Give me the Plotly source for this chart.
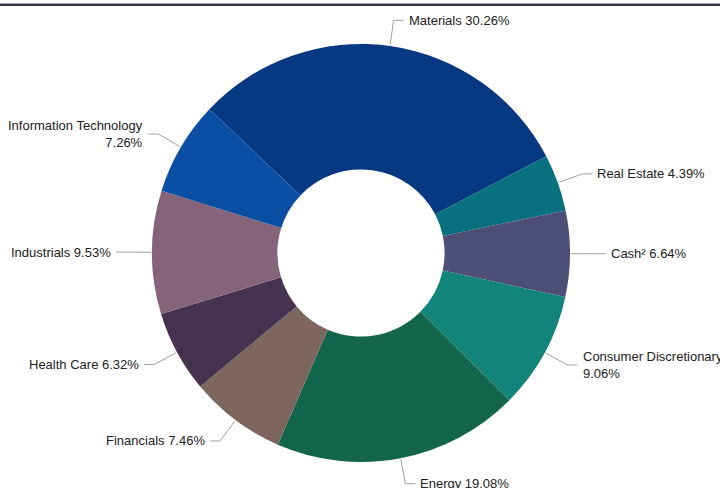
import math
import plotly.graph_objects as go

labels = ["Materials", "Real Estate", "Cash²", "Consumer Discretionary", "Energy",
          "Financials", "Health Care", "Industrials", "Information Technology"]
values = [30.26, 4.39, 6.64, 9.06, 19.08, 7.46, 6.32, 9.53, 7.26]
colors = ["#073882", "#08707e", "#4e4f76", "#13847a", "#13654c",
          "#7c665e", "#46334f", "#856479", "#0b4fa5"]

W, H = 720, 488
CX, CY, R = 361, 253, 209
START = -46.5  # degrees clockwise from 12 o'clock

fig = go.Figure(go.Pie(
    labels=labels, values=values, sort=False, direction="clockwise",
    rotation=START, hole=0.4, textinfo="none", hoverinfo="label+percent",
    marker=dict(colors=colors, line=dict(width=0)),
    domain=dict(x=[(CX - R) / W, (CX + R) / W],
                y=[(H - CY - R) / H, (H - CY + R) / H]),
    showlegend=False,
))

def px(x, y):
    return x / W, 1 - y / H

shapes = [dict(type="line", xref="paper", yref="paper", x0=0, x1=1,
               y0=1 - 4.8 / H, y1=1 - 4.8 / H, line=dict(color="#3f3350", width=2.5))]
annotations = []
total = sum(values)
cum = 0
for name, v in zip(labels, values):
    mid = math.radians(START + 360 * (cum + v / 2) / total)
    cum += v
    s, c = math.sin(mid), -math.cos(mid)
    x0, y0 = CX + (R + 1) * s, CY + (R + 1) * c
    x1, y1 = CX + (R + 26) * s, CY + (R + 26) * c
    right = s >= 0
    x2 = x1 + (10 if right else -10)
    xt = x2 + (3 if right else -3)
    pts = [px(x0, y0), px(x1, y1), px(x2, y1)]
    path = "M {} {} L {} {} L {} {}".format(*[f"{a:.5f}" for p in pts for a in p])
    shapes.append(dict(type="path", xref="paper", yref="paper", path=path,
                       line=dict(color="#a0a0a0", width=1)))
    pct = f"{v:.2f}%"
    text = f"{name}<br>{pct}" if len(name) > 18 else f"{name} {pct}"
    tx, ty = px(xt, y1)
    annotations.append(dict(
        x=tx, y=ty, xref="paper", yref="paper", text=text, showarrow=False,
        xanchor="left" if right else "right", yanchor="middle",
        align="left" if right else "right",
        font=dict(family="Liberation Sans, Arial", size=13, color="#222222")))

fig.update_layout(
    width=W, height=H, margin=dict(l=0, r=0, t=0, b=0),
    paper_bgcolor="white", plot_bgcolor="white",
    shapes=shapes, annotations=annotations,
)
fig.write_html("out.html", config={"displayModeBar": False},
               post_script="document.body.style.margin='0';document.body.style.overflow='hidden';")
